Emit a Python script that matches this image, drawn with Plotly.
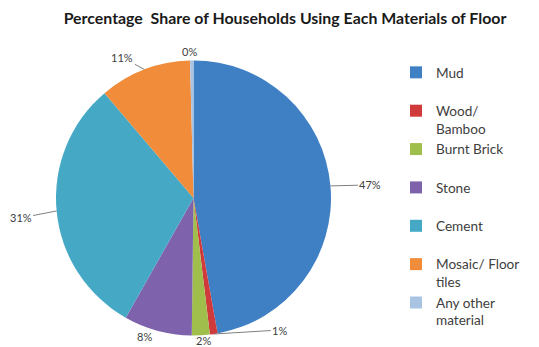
import math
import plotly.graph_objects as go

# ---- data ----
categories = ["Mud", "Wood/ Bamboo", "Burnt Brick", "Stone", "Cement",
              "Mosaic/ Floor tiles", "Any other material"]
legend_text = ["Mud<br>&nbsp;", "Wood/<br>Bamboo", "Burnt Brick<br>&nbsp;",
               "Stone<br>&nbsp;", "Cement<br>&nbsp;", "Mosaic/ Floor<br>tiles",
               "Any other<br>material"]
shares = [47.2, 0.9, 2.1, 8.0, 30.6, 10.8, 0.4]
pct_labels = ["47%", "1%", "2%", "8%", "31%", "11%", "0%"]

# ---- style ----
colors = ["#3F7FC4", "#D03A3A", "#A0BE4C", "#7E62AB", "#45A9C6", "#F08C3A", "#A9C3E3"]
# label offsets from slice edge (px), and whether a leader line is drawn
label_offsets = [(40, -1), (66, -4), (3, 5), (-13, 6), (-36, 7), (-22, -12), (-2, -9)]
leader = [True, True, False, False, True, True, False]

W, H = 539, 347
cx, cy, r = 193.5, 198.0, 137.5  # pie centre / radius in px

fig = go.Figure(go.Pie(
    labels=legend_text,
    values=shares,
    sort=False,
    direction="clockwise",
    rotation=0,
    marker=dict(colors=colors, line=dict(color="white", width=0)),
    textinfo="none",
    hoverinfo="label+percent",
    domain=dict(x=[(cx - r) / W, (cx + r) / W], y=[1 - (cy + r) / H, 1 - (cy - r) / H]),
))

total = sum(shares)
annotations = []
cum = 0.0
for v, txt, (dx, dy), ld in zip(shares, pct_labels, label_offsets, leader):
    mid = (cum + v / 2) / total * 2 * math.pi
    cum += v
    px = cx + r * math.sin(mid)
    py = cy - r * math.cos(mid)
    if ld:
        annotations.append(dict(
            x=px / W, y=1 - py / H, xref="paper", yref="paper",
            text=txt, showarrow=True, arrowhead=0, arrowwidth=1,
            arrowcolor="#7f7f7f", ax=dx, ay=dy, standoff=0,
            font=dict(size=11, color="#404040", family="Lato")))
    else:
        annotations.append(dict(
            x=(px + dx) / W, y=1 - (py + dy) / H, xref="paper", yref="paper",
            text=txt, showarrow=False, xanchor="center", yanchor="middle",
            font=dict(size=11, color="#404040", family="Lato")))

fig.update_layout(
    width=W, height=H,
    margin=dict(l=0, r=0, t=0, b=0),
    paper_bgcolor="white",
    font=dict(family="Lato", color="#404040"),
    title=dict(text="<b>Percentage  Share of Households Using Each Materials of Floor</b>",
               x=285 / W, xanchor="center", y=1 - 18 / H, yanchor="middle",
               yref="container", font=dict(size=15.9, color="#1a1a1a", family="Lato")),
    legend=dict(x=396 / W, xanchor="left", y=1 - 57 / H, yanchor="top",
                font=dict(size=13.6, color="#404040", family="Lato"),
                valign="top", traceorder="normal", bgcolor="rgba(0,0,0,0)"),
    annotations=annotations,
    showlegend=True,
)

fig.write_html("out.html")
